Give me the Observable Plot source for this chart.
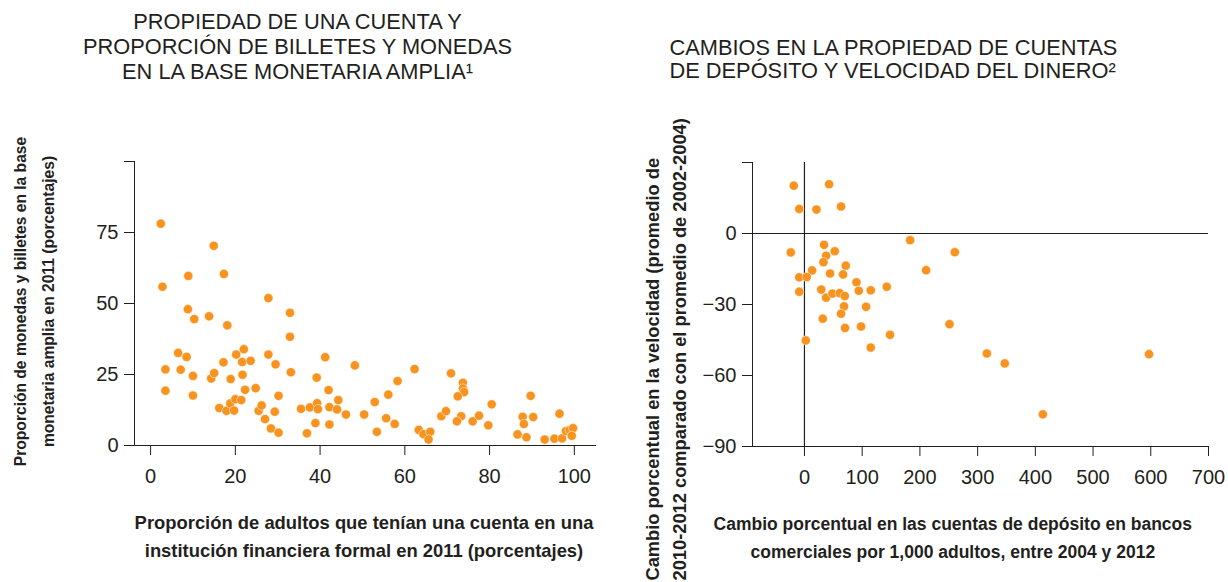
<!DOCTYPE html>
<html>
<head>
<meta charset="utf-8">
<script src="https://cdn.jsdelivr.net/npm/d3@7"></script>
<script src="https://cdn.jsdelivr.net/npm/@observablehq/plot@0.6"></script>
<style>
  html, body { margin: 0; padding: 0; background: #fff; }
  #wrap { width: 1228px; height: 582px; display: flex; overflow: hidden; }
  #wrap > div { width: 614px; height: 582px; }
</style>
</head>
<body>
<div id="wrap"><div id="left"></div><div id="right"></div></div>
<script>
// ---- Left panel: account ownership vs currency share ----
const leftTitle = "PROPIEDAD DE UNA CUENTA Y\nPROPORCIÓN DE BILLETES Y MONEDAS\nEN LA BASE MONETARIA AMPLIA¹";
const leftXLabel = "Proporción de adultos que tenían una cuenta en una\ninstitución financiera formal en 2011 (porcentajes)";
const leftYLabel = "Proporción de monedas y billetes en la base\nmonetaria amplia en 2011 (porcentajes)";
const leftXTicks = [0, 20, 40, 60, 80, 100];
const leftYTicks = [0, 25, 50, 75, 100];
const accountShare = [2.4,14.9,8.9,17.3,2.8,27.8,8.8,32.9,10.3,13.8,18.1,32.9,6.5,8.5,3.5,7.1,10.0,3.5,10.0,14.3,15.0,17.2,18.9,20.2,22.0,21.6,23.6,21.7,22.3,24.8,27.8,29.5,33.1,30.2,16.2,17.9,18.8,19.7,20.0,21.4,25.5,26.2,27.0,29.3,28.4,30.2,35.5,37.6,39.3,39.5,39.2,41.2,42.0,42.2,44.0,44.3,46.1,48.2,50.4,38.9,36.9,42.2,52.9,53.4,55.6,56.1,57.6,58.3,62.3,63.3,64.4,66.0,65.6,68.6,69.7,70.9,73.7,73.7,74.0,72.5,73.3,72.3,76.0,77.5,79.7,80.5,86.6,88.7,87.8,88.1,90.3,89.7,93.0,95.3,97.1,96.5,98.0,98.9,99.7,99.4];
const currencyShare = [78.1,70.3,59.7,60.4,55.9,51.9,48.0,46.7,44.5,45.5,42.3,38.3,32.6,31.2,26.8,26.7,24.5,19.3,17.6,23.6,25.5,29.3,23.4,32.0,33.9,29.4,29.8,24.9,19.6,20.2,32.0,28.6,25.8,17.5,13.2,12.2,14.8,12.3,16.3,16.0,12.2,14.1,9.3,11.9,6.0,4.5,12.9,13.4,14.9,12.8,23.9,31.1,19.5,13.5,12.7,16.0,10.9,28.2,10.9,7.9,4.3,7.4,15.3,4.8,9.6,17.9,7.6,22.7,26.9,5.5,4.0,4.8,2.1,10.3,12.1,25.4,22.1,20.1,18.8,17.3,10.3,8.5,8.5,10.5,7.1,14.5,3.9,2.9,10.1,7.6,10.0,17.5,2.1,2.4,2.5,11.2,5.1,5.4,6.1,3.4];

// ---- Right panel: change in deposit accounts vs velocity ----
const rightTitle = "CAMBIOS EN LA PROPIEDAD DE CUENTAS\nDE DEPÓSITO Y VELOCIDAD DEL DINERO²";
const rightXLabel = "Cambio porcentual en las cuentas de depósito en bancos\ncomerciales por 1,000 adultos, entre 2004 y 2012";
const rightYLabel = "Cambio porcentual en la velocidad (promedio de\n2010-2012 comparado con el promedio de 2002-2004)";
const rightXTicks = [0, 100, 200, 300, 400, 500, 600, 700];
const rightYTicks = [-90, -60, -30, 0, 30];
const depositChange = [-18.5,42.7,-9.0,20.8,63.4,183,34,-23.7,52.5,37.5,32.9,71.6,210.8,13.2,44.4,66.9,-9.0,4.0,90.1,94.1,114.9,142.6,-9.0,29.1,37.5,48.5,61.2,69.8,68.6,106.8,63.4,31.7,70.3,98.1,148.3,2.3,114.9,260.5,251.3,316,347,597,413];
const velocityChange = [20.2,20.8,10.4,10.1,11.4,-2.8,-4.8,-8.0,-7.5,-9.4,-12.1,-13.6,-15.5,-15.6,-16.9,-17.3,-18.5,-18.4,-20.6,-24.2,-24.0,-22.5,-24.6,-23.7,-27.1,-25.4,-25.2,-26.4,-30.8,-31.0,-33.9,-36.0,-39.9,-39.3,-42.8,-45.2,-48.2,-7.9,-38.3,-50.7,-54.9,-51.0,-76.4];

const INK = "#231f20";
const ORANGE = "#f7931e";
const FONT = "'Liberation Sans', Arial, Helvetica, sans-serif";

const leftData = accountShare.map((x, i) => ({x, y: currencyShare[i]}));
const rightData = depositChange.map((x, i) => ({x, y: velocityChange[i]}));

const common = {
  width: 614,
  height: 582,
  style: {fontFamily: FONT, fontSize: "20px", color: INK, background: "white", overflow: "visible"}
};

const left = Plot.plot({
  ...common,
  marginLeft: 134, marginRight: 19, marginTop: 161, marginBottom: 137,
  x: {domain: [-3.8, 105], ticks: leftXTicks, tickSize: 10, tickPadding: 13, line: true, label: null},
  y: {domain: [0, 100], ticks: leftYTicks, tickSize: 10, tickPadding: 6, line: true, label: null,
      tickFormat: d => d === 100 ? "" : String(d)},
  marks: [
    Plot.dot(leftData, {x: "x", y: "y", r: 4.6, fill: ORANGE, stroke: "white", strokeWidth: 0.5}),
    Plot.text([leftTitle], {frameAnchor: "top-left", dx: 163, dy: -115.5, text: d => d,
      fontSize: 21.8, lineHeight: 25 / 21.8, textAnchor: "middle", lineAnchor: "middle", fill: INK}),
    Plot.text([leftXLabel], {frameAnchor: "bottom", dx: -1, dy: 89, text: d => d,
      fontSize: 18.4, fontWeight: "bold", lineHeight: 28 / 18.4, textAnchor: "middle", lineAnchor: "middle", fill: INK}),
    Plot.text([leftYLabel], {frameAnchor: "left", dx: -103, dy: -2, rotate: -90, text: d => d,
      fontSize: 15.6, fontWeight: "bold", lineHeight: 28 / 15.6, textAnchor: "middle", lineAnchor: "middle", fill: INK})
  ]
});

const right = Plot.plot({
  ...common,
  marginLeft: 138, marginRight: 20, marginTop: 162, marginBottom: 136,
  x: {domain: [-90, 700], ticks: rightXTicks, tickSize: 10, tickPadding: 13, line: true, label: null},
  y: {domain: [-90, 30], ticks: rightYTicks, tickSize: 10, tickPadding: 6, line: true, label: null,
      tickFormat: d => d === 30 ? "" : d3.format("d")(d)},
  marks: [
    Plot.ruleX([0], {stroke: INK, strokeWidth: 1.2}),
    Plot.ruleY([0], {stroke: INK, strokeWidth: 1.2}),
    Plot.dot(rightData, {x: "x", y: "y", r: 4.6, fill: ORANGE, stroke: "white", strokeWidth: 0.5}),
    Plot.text([rightTitle], {frameAnchor: "top-left", dx: -83, dy: -103.5, text: d => d,
      fontSize: 21.8, lineHeight: 23.5 / 21.8, textAnchor: "start", lineAnchor: "middle", fill: INK}),
    Plot.text([rightXLabel], {frameAnchor: "bottom", dx: -27.7, dy: 89, text: d => d,
      fontSize: 17.5, fontWeight: "bold", lineHeight: 28 / 17.5, textAnchor: "middle", lineAnchor: "middle", fill: INK}),
    Plot.text([rightYLabel], {frameAnchor: "bottom-left", dx: -88.3, dy: 134, rotate: -90, text: d => d,
      fontSize: 18.3, fontWeight: "bold", lineHeight: 27 / 18.3, textAnchor: "start", lineAnchor: "middle", fill: INK})
  ]
});

document.getElementById("left").appendChild(left);
document.getElementById("right").appendChild(right);
</script>
</body>
</html>
